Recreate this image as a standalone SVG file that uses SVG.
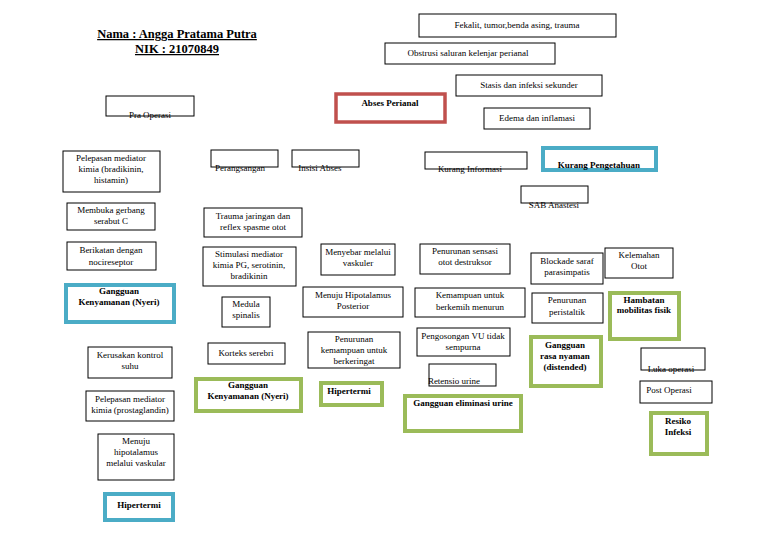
<svg xmlns="http://www.w3.org/2000/svg" width="768" height="543" viewBox="0 0 768 543">
<style>
.b{fill:#fff;stroke:#000;stroke-width:1}
.red{fill:#fff;stroke:#c0504d;stroke-width:3.5}
.blue{fill:#fff;stroke:#4bacc6;stroke-width:4}
.green{fill:#fff;stroke:#9bbb59;stroke-width:4}
text{font-family:"Liberation Serif","Times New Roman",serif;font-size:9px;fill:#000;text-anchor:middle}
.bd{font-weight:bold}
.title{font-size:12.5px;font-weight:bold;text-decoration:underline}
</style>
<rect width="768" height="543" fill="#fff"/>
<g id="title">
<text class="title" x="177" y="38">Nama : Angga Pratama Putra</text>
<text class="title" x="177" y="53">NIK : 21070849</text>
</g>
<g id="connectors"></g>
<g id="n-fekalit"><rect class="b" x="419" y="14" width="197" height="23"/><text x="517" y="28">Fekalit, tumor,benda asing, trauma</text></g>
<g id="n-obstrusi"><rect class="b" x="385" y="43" width="170" height="21"/><text x="468" y="56">Obstrusi saluran kelenjar perianal</text></g>
<g id="n-stasis"><rect class="b" x="456" y="75" width="146" height="21"/><text x="529" y="88">Stasis dan infeksi sekunder</text></g>
<g id="n-abses"><rect class="red" x="336" y="94" width="109" height="28"/><text class="bd" x="390" y="106">Abses Perianal</text></g>
<g id="n-edema"><rect class="b" x="484" y="108" width="106" height="21"/><text x="537" y="121">Edema dan inflamasi</text></g>
<g id="n-pra"><rect class="b" x="106" y="96" width="88" height="20"/><text x="150" y="118">Pra Operasi</text></g>
<g id="n-pelepasan1"><rect class="b" x="63" y="151" width="97" height="41"/><text x="111" y="161">Pelepasan mediator</text><text x="111" y="172">kimia (bradikinin,</text><text x="111" y="183">histamin)</text></g>
<g id="n-perangsangan"><rect class="b" x="211" y="150" width="67" height="17"/><text x="240" y="171">Perangsangan</text></g>
<g id="n-insisi"><rect class="b" x="292" y="150" width="67" height="17"/><text x="320" y="171">Insisi Abses</text></g>
<g id="n-kurang-info"><rect class="b" x="425" y="152" width="102" height="17"/><text x="470" y="172">Kurang Informasi</text></g>
<g id="n-kurang-peng"><rect class="blue" x="543" y="148" width="113" height="22"/><text class="bd" x="599" y="168">Kurang  Pengetahuan</text></g>
<g id="n-sab"><rect class="b" x="521" y="186" width="67" height="17"/><text x="554" y="208">SAB Anastesi</text></g>
<g id="n-membuka"><rect class="b" x="67" y="203" width="88" height="27"/><text x="111" y="213">Membuka gerbang</text><text x="111" y="224">serabut C</text></g>
<g id="n-trauma"><rect class="b" x="204" y="208" width="98" height="29"/><text x="253" y="219">Trauma jaringan dan</text><text x="253" y="230">reflex spasme otot</text></g>
<g id="n-berikatan"><rect class="b" x="67" y="242" width="89" height="28"/><text x="111" y="253">Berikatan dengan</text><text x="111" y="265">nocireseptor</text></g>
<g id="n-stimulasi"><rect class="b" x="203" y="247" width="93" height="39"/><text x="249" y="257">Stimulasi mediator</text><text x="249" y="268">kimia PG, serotinin,</text><text x="249" y="279">bradikinin</text></g>
<g id="n-menyebar"><rect class="b" x="321" y="244" width="74" height="31"/><text x="358" y="255">Menyebar melalui</text><text x="358" y="266">vaskuler</text></g>
<g id="n-sensasi"><rect class="b" x="420" y="244" width="90" height="30"/><text x="465" y="254">Penurunan sensasi</text><text x="465" y="265">otot destruksor</text></g>
<g id="n-blockade"><rect class="b" x="531" y="253" width="72" height="31"/><text x="567" y="264">Blockade saraf</text><text x="567" y="275">parasimpatis</text></g>
<g id="n-kelemahan"><rect class="b" x="605" y="248" width="68" height="30"/><text x="639" y="258">Kelemahan</text><text x="639" y="269">Otot</text></g>
<g id="n-nyeri1"><rect class="blue" x="66" y="285" width="108" height="37"/><text class="bd" x="119" y="294">Gangguan</text><text class="bd" x="119" y="305">Kenyamanan (Nyeri)</text></g>
<g id="n-medula"><rect class="b" x="222" y="297" width="48" height="30"/><text x="246" y="307">Medula</text><text x="246" y="318">spinalis</text></g>
<g id="n-hipot-post"><rect class="b" x="303" y="287" width="100" height="30"/><text x="353" y="298">Menuju Hipotalamus</text><text x="353" y="309">Posterior</text></g>
<g id="n-kemampuan"><rect class="b" x="415" y="288" width="110" height="29"/><text x="470" y="298">Kemampuan untuk</text><text x="470" y="310">berkemih menurun</text></g>
<g id="n-peristaltik"><rect class="b" x="532" y="293" width="71" height="30"/><text x="567" y="303">Penurunan</text><text x="567" y="315">peristaltik</text></g>
<g id="n-hambatan"><rect class="green" x="610" y="293" width="69" height="46"/><text class="bd" x="644" y="303">Hambatan</text><text class="bd" x="644" y="313">mobilitas fisik</text></g>
<g id="n-pengosongan"><rect class="b" x="417" y="328" width="93" height="28"/><text x="463" y="339">Pengosongan VU tidak</text><text x="463" y="350">sempurna</text></g>
<g id="n-berkeringat"><rect class="b" x="308" y="332" width="92" height="36"/><text x="354" y="342">Penurunan</text><text x="354" y="353">kemampuan untuk</text><text x="354" y="364">berkeringat</text></g>
<g id="n-distended"><rect class="green" x="531" y="337" width="70" height="49"/><text class="bd" x="565" y="348">Gangguan</text><text class="bd" x="565" y="359">rasa nyaman</text><text class="bd" x="565" y="370">(distended)</text></g>
<g id="n-kerusakan"><rect class="b" x="88" y="347" width="84" height="31"/><text x="130" y="358">Kerusakan kontrol</text><text x="130" y="369">suhu</text></g>
<g id="n-korteks"><rect class="b" x="208" y="343" width="77" height="21"/><text x="246" y="356">Korteks serebri</text></g>
<g id="n-luka"><rect class="b" x="641" y="348" width="64" height="22"/><text x="671" y="372">Luka operasi</text></g>
<g id="n-retensio"><rect class="b" x="429" y="364" width="67" height="22"/><text x="454" y="384">Retensio urine</text></g>
<g id="n-nyeri2"><rect class="green" x="196" y="379" width="105" height="32"/><text class="bd" x="248" y="388">Gangguan</text><text class="bd" x="248" y="399">Kenyamanan (Nyeri)</text></g>
<g id="n-hipertermi1"><rect class="green" x="321" y="383" width="61" height="22"/><text class="bd" x="349" y="394">Hipertermi</text></g>
<g id="n-post"><rect class="b" x="640" y="381" width="72" height="22"/><text x="669" y="393">Post Operasi</text></g>
<g id="n-pelepasan2"><rect class="b" x="86" y="391" width="88" height="30"/><text x="130" y="402">Pelepasan mediator</text><text x="130" y="413">kimia (prostaglandin)</text></g>
<g id="n-eliminasi"><rect class="green" x="405" y="396" width="116" height="35"/><text class="bd" x="463" y="406">Gangguan eliminasi urine</text></g>
<g id="n-resiko"><rect class="green" x="651" y="413" width="56" height="41"/><text class="bd" x="678" y="424">Resiko</text><text class="bd" x="678" y="435">Infeksi</text></g>
<g id="n-menuju-hipot"><rect class="b" x="98" y="434" width="76" height="46"/><text x="136" y="444">Menuju</text><text x="136" y="455">hipotalamus</text><text x="136" y="466">melalui vaskular</text></g>
<g id="n-hipertermi2"><rect class="blue" x="105" y="494" width="68" height="26"/><text class="bd" x="139" y="508">Hipertermi</text></g>
</svg>
